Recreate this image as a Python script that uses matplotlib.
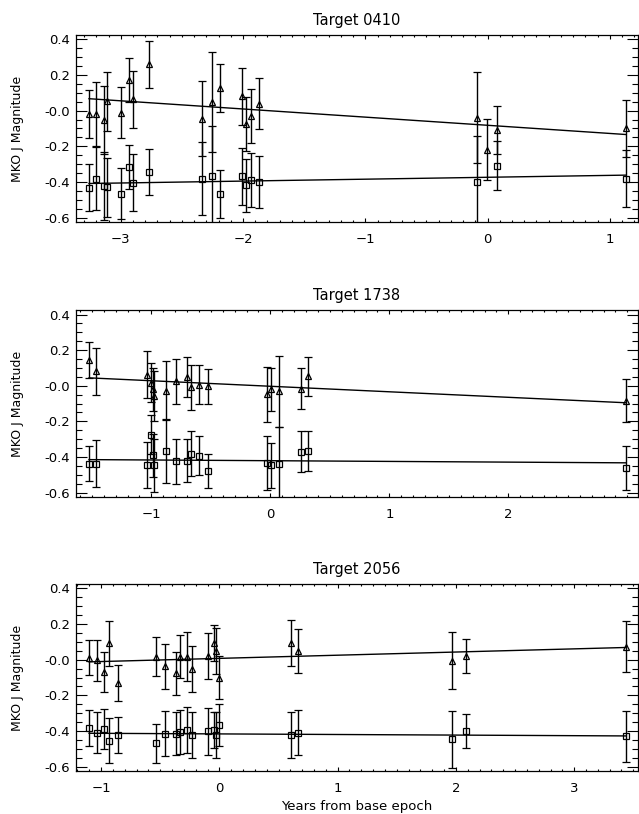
import numpy as np
import matplotlib
matplotlib.use('Agg')
import matplotlib.pyplot as plt
from matplotlib.ticker import MultipleLocator, FixedLocator

# photometry of the three targets against time from the base epoch

nan = np.nan

# Target 0410
t0410_epoch = [-3.26, -3.20, -3.14, -3.115, -3.00, -2.93, -2.90, -2.77, -2.333, -2.251,
               -2.188, -2.006, -1.975, -1.934, -1.867, -0.088, -0.007, 0.075, 1.133]
t0410_tri = [-0.017, -0.021, -0.053, 0.053, -0.012, 0.171, 0.063, 0.26, -0.046, 0.048,
             0.128, 0.082, -0.074, -0.031, 0.039, -0.04, -0.218, -0.106, -0.10]
t0410_tri_err = [0.135, 0.18, 0.19, 0.165, 0.144, 0.125, 0.16, 0.13, 0.21, 0.28,
                 0.135, 0.16, 0.15, 0.15, 0.143, 0.256, 0.17, 0.135, 0.16]
t0410_sq = [-0.433, -0.381, -0.424, -0.43, -0.467, -0.315, -0.405, -0.345, -0.381, -0.368,
            -0.467, -0.368, -0.42, -0.39, -0.40, -0.40, nan, -0.308, -0.383]
t0410_sq_err = [0.133, 0.178, 0.19, 0.165, 0.143, 0.125, 0.16, 0.13, 0.205, 0.28,
                0.135, 0.16, 0.15, 0.15, 0.145, 0.258, nan, 0.135, 0.16]
t0410_tri_fit = [-0.0458, -0.082]   # slope, intercept
t0410_sq_fit = [0.0107, -0.374]

# Target 1738
t1738_epoch = [-1.524, -1.465, -1.039, -1.00, -0.99, -0.98, -0.879, -0.792, -0.703, -0.666,
               -0.599, -0.521, -0.03, 0.006, 0.076, 0.255, 0.319, 2.989]
t1738_tri = [0.143, 0.081, 0.063, 0.016, -0.021, -0.059, -0.027, 0.025, 0.05, -0.008,
             0.005, -0.003, -0.049, -0.021, -0.031, -0.016, 0.053, -0.083]
t1738_tri_err = [0.10, 0.133, 0.13, 0.11, 0.12, 0.14, 0.165, 0.125, 0.113, 0.126,
                 0.11, 0.097, 0.153, 0.123, 0.2, 0.116, 0.11, 0.122]
t1738_sq = [-0.437, -0.437, -0.447, -0.274, -0.39, -0.447, -0.368, -0.424, -0.42, -0.381,
            -0.392, -0.48, -0.433, -0.447, -0.439, -0.372, -0.368, -0.461]
t1738_sq_err = [0.10, 0.13, 0.13, 0.11, 0.12, 0.15, 0.18, 0.127, 0.12, 0.125,
                0.11, 0.097, 0.153, 0.125, 0.205, 0.115, 0.112, 0.122]
t1738_tri_fit = [-0.031, -0.003]
t1738_sq_fit = [-0.004, -0.421]

# Target 2056
t2056_epoch = [-1.102, -1.037, -0.975, -0.93, -0.86, -0.536, -0.459, -0.366, -0.332, -0.276,
               -0.234, -0.098, -0.045, -0.03, 0.0, 0.604, 0.663, 1.971, 2.087, 3.441]
t2056_tri = [0.012, -0.003, -0.068, 0.093, -0.132, 0.018, -0.038, -0.076, 0.018, 0.018,
             -0.053, 0.021, 0.093, 0.049, -0.10, 0.093, 0.049, -0.007, 0.021, 0.074]
t2056_tri_err = [0.10, 0.115, 0.113, 0.127, 0.10, 0.11, 0.127, 0.122, 0.122, 0.135,
                 0.13, 0.13, 0.10, 0.13, 0.12, 0.13, 0.125, 0.16, 0.094, 0.145]
t2056_sq = [-0.385, -0.409, -0.39, -0.456, -0.422, -0.469, -0.415, -0.415, -0.406, -0.396,
            -0.424, -0.403, -0.394, -0.422, -0.366, -0.422, -0.409, -0.447, -0.40, -0.431]
t2056_sq_err = [0.10, 0.115, 0.113, 0.126, 0.10, 0.11, 0.125, 0.122, 0.122, 0.13,
                0.13, 0.13, 0.10, 0.13, 0.12, 0.13, 0.125, 0.16, 0.094, 0.143]
t2056_tri_fit = [0.0178, 0.0076]
t2056_sq_fit = [-0.0033, -0.4166]

panels = [
    ("Target 0410", t0410_epoch, t0410_tri, t0410_tri_err, t0410_sq, t0410_sq_err,
     t0410_tri_fit, t0410_sq_fit, (-3.366, 1.231), [-3, -2, -1, 0, 1]),
    ("Target 1738", t1738_epoch, t1738_tri, t1738_tri_err, t1738_sq, t1738_sq_err,
     t1738_tri_fit, t1738_sq_fit, (-1.633, 3.09), [-1, 0, 1, 2]),
    ("Target 2056", t2056_epoch, t2056_tri, t2056_tri_err, t2056_sq, t2056_sq_err,
     t2056_tri_fit, t2056_sq_fit, (-1.212, 3.54), [-1, 0, 1, 2, 3]),
]

ytick_vals = [-0.6, -0.4, -0.2, 0.0, 0.2, 0.4]
ytick_labels = ['-0.6', '-0.4', '-0.2', '-0.0', '0.2', '0.4']

fig = plt.figure(figsize=(6.39, 8.14), dpi=100)
bottoms = [0.7273, 0.3894, 0.0528]

for (title, ep, tri, tri_err, sq, sq_err, tri_fit, sq_fit, xlim, xt), b in zip(panels, bottoms):
    ax = fig.add_axes([0.119, b, 0.8795, 0.2297])
    ep = np.array(ep)

    ax.errorbar(ep, tri, yerr=tri_err, fmt='^', mfc='none', mec='black', ms=5, mew=0.9,
                ecolor='black', elinewidth=1.0, capsize=3, capthick=1.0)
    ax.errorbar(ep, sq, yerr=sq_err, fmt='s', mfc='none', mec='black', ms=5, mew=0.9,
                ecolor='black', elinewidth=1.0, capsize=3, capthick=1.0)

    # linear trends over the span of the epochs
    xx = np.array([ep.min(), ep.max()])
    ax.plot(xx, tri_fit[0] * xx + tri_fit[1], color='black', lw=1.0)
    ax.plot(xx, sq_fit[0] * xx + sq_fit[1], color='black', lw=1.0)

    ax.set_xlim(*xlim)
    ax.set_ylim(-0.625, 0.425)
    ax.xaxis.set_major_locator(FixedLocator(xt))
    ax.set_xticklabels([str(v).replace('-', '\u2212') for v in xt])
    ax.xaxis.set_minor_locator(MultipleLocator(0.1))
    ax.yaxis.set_major_locator(FixedLocator(ytick_vals))
    ax.set_yticklabels(ytick_labels)
    ax.yaxis.set_minor_locator(MultipleLocator(0.05))

    ax.tick_params(axis='both', which='both', direction='in', top=True, right=True,
                   labelsize=9.5, width=0.8)
    ax.tick_params(axis='y', which='major', length=8, pad=4)
    ax.tick_params(axis='y', which='minor', length=4)
    ax.tick_params(axis='x', which='major', length=3, pad=8)
    ax.tick_params(axis='x', which='minor', length=1.5)
    for sp in ax.spines.values():
        sp.set_linewidth(0.9)

    ax.set_title(title, fontsize=10.5, pad=7)
    ax.set_ylabel('MKO J Magnitude', fontsize=9)
    ax.yaxis.set_label_coords(-0.093, 0.5)

ax.set_xlabel('Years from base epoch', fontsize=9.5)
ax.xaxis.set_label_coords(0.5, -0.155)

fig.savefig('out.png', dpi=100)
